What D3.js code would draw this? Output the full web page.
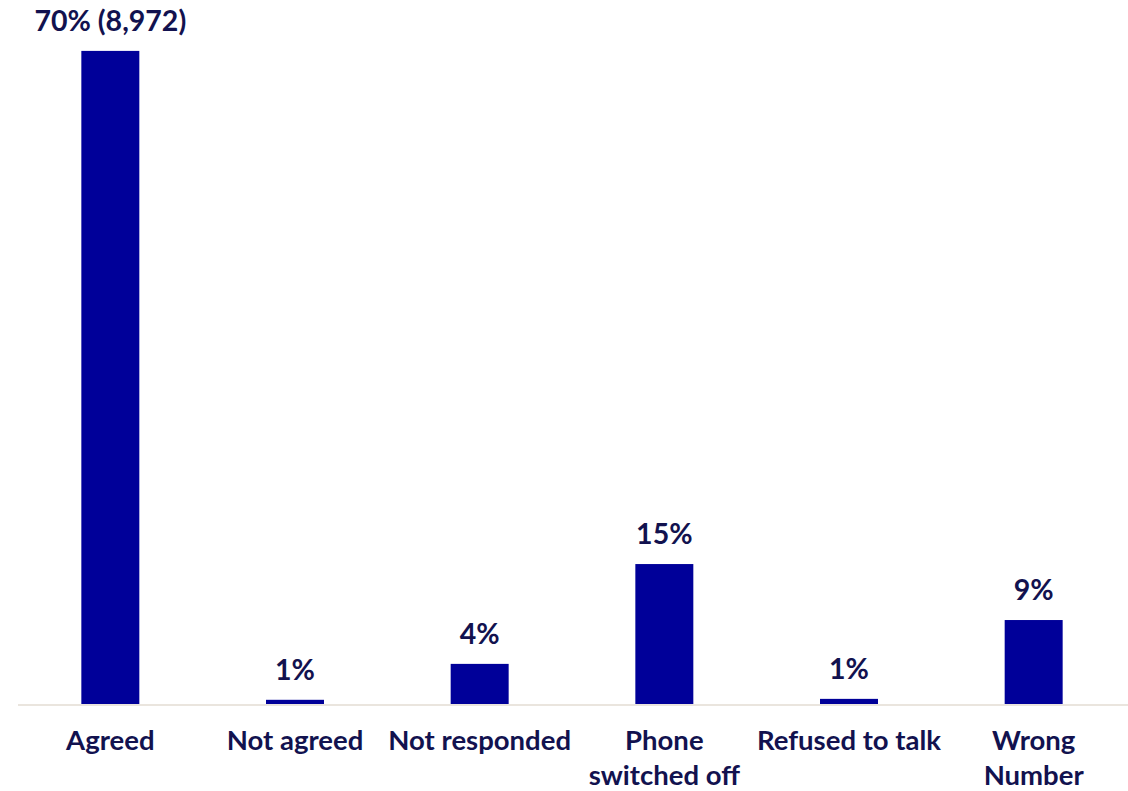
<!DOCTYPE html>
<html>
<head>
<meta charset="utf-8">
<script src="https://cdn.jsdelivr.net/npm/d3@7"></script>
<style>
  body { margin: 0; background: #fff; }
  svg text { font-family: Lato, "Open Sans", sans-serif; font-weight: bold; fill: #12124f; }
</style>
</head>
<body>
<div id="chart"></div>
<script>
(function(d3) {
		var categories = ["Agreed", "Not agreed", "Not responded", "Phone switched off", "Refused to talk", "Wrong Number"];
		var catLines = [["Agreed"], ["Not agreed"], ["Not responded"], ["Phone", "switched off"], ["Refused to talk"], ["Wrong", "Number"]];
		var values = [70, 0.45, 4.3, 15, 0.55, 9];
		var valueLabels = ["70% (8,972)", "1%", "4%", "15%", "1%", "9%"];

		var widthSVG = 1128;
		var heightSVG = 791;
		var baseY = 704;
		var left = 18, right = 1126;
		var pxPerPct = 9.33;

		var svg = d3.select("#chart")
			.append("svg")
			.attr("width", widthSVG)
			.attr("height", heightSVG);

		var xScale = d3.scaleBand()
			.domain(categories)
			.range([left, right])
			.paddingInner(0.686)
			.paddingOuter(0.343);

		var yScale = d3.scaleLinear()
			.domain([0, 70])
			.range([baseY, baseY - 70 * pxPerPct]);

		// baseline
		svg.append("line")
			.attr("x1", left).attr("x2", widthSVG)
			.attr("y1", baseY + 1).attr("y2", baseY + 1)
			.attr("stroke", "#e3ddd3")
			.attr("stroke-width", 1.5);

		svg.selectAll("rect.bar")
			.data(values)
			.enter()
			.append("rect")
			.attr("class", "bar")
			.attr("x", function(d, i){ return xScale(categories[i]); })
			.attr("y", function(d){ return yScale(d); })
			.attr("width", xScale.bandwidth())
			.attr("height", function(d){ return baseY - yScale(d); })
			.attr("fill", "#000099");

		svg.selectAll("text.val")
			.data(values)
			.enter()
			.append("text")
			.attr("class", "val")
			.text(function(d, i){ return valueLabels[i]; })
			.attr("x", function(d, i){ return xScale(categories[i]) + xScale.bandwidth() / 2; })
			.attr("y", function(d){ return yScale(d) - 20; })
			.attr("font-size", "28.5px")
			.attr("text-anchor", "middle");

		var cat = svg.selectAll("text.cat")
			.data(catLines)
			.enter()
			.append("text")
			.attr("class", "cat")
			.attr("x", function(d, i){ return xScale(categories[i]) + xScale.bandwidth() / 2; })
			.attr("y", 750)
			.attr("font-size", "27.5px")
			.attr("text-anchor", "middle");

		cat.selectAll("tspan")
			.data(function(d){ return d; })
			.enter()
			.append("tspan")
			.attr("x", function(){ return d3.select(this.parentNode).attr("x"); })
			.attr("dy", function(d, i){ return i === 0 ? 0 : 35; })
			.text(function(d){ return d; });

})(window.d3);
</script>
</body>
</html>
